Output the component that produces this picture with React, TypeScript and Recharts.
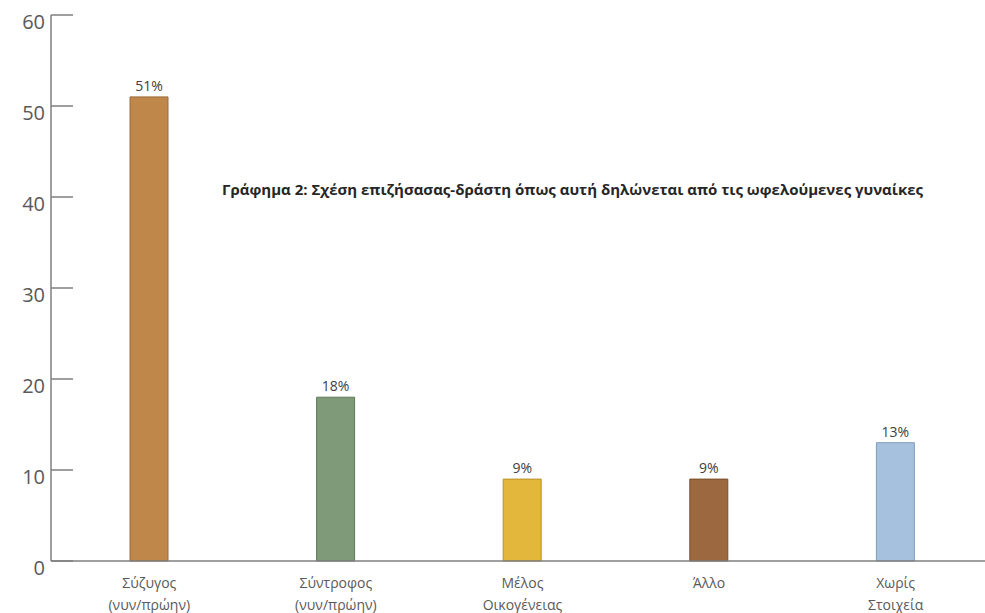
import React from "react";
import { BarChart, Bar, XAxis, YAxis, Cell, LabelList } from "recharts";

const categories: string[] = ["Σύζυγος\n(νυν/πρώην)", "Σύντροφος\n(νυν/πρώην)", "Μέλος\nΟικογένειας", "Άλλο", "Χωρίς\nΣτοιχεία"];
const values: number[] = [51, 18, 9, 9, 13];
const barColors: string[] = ["#C0874A", "#7F9A78", "#E2B73C", "#9B683F", "#A6C1DD"];
const barStrokes: string[] = ["#9c6a36", "#5f7a58", "#b8922a", "#7a4f2c", "#7f9cbb"];
const yTicks: number[] = [0, 10, 20, 30, 40, 50, 60];
const title = "Γράφημα 2: Σχέση επιζήσασας-δράστη όπως αυτή δηλώνεται από τις ωφελούμενες γυναίκες";

const data = categories.map((c, i) => ({ name: c, value: values[i] }));

const axisColor = "#7f7f7f";
const textColor = "#595959";
const font = "'Open Sans', 'DejaVu Sans', sans-serif";

const YTick = (props: any) => {
  const { x, y, payload } = props;
  return (
    <g>
      <line x1={x} y1={y} x2={x + 22} y2={y} stroke={axisColor} strokeWidth={1.5} />
      <text x={x - 6} y={y + 14} textAnchor="end" fontSize={20} fill={textColor} fontFamily={font}>
        {payload.value}
      </text>
    </g>
  );
};

const XTick = (props: any) => {
  const { x, y, payload } = props;
  const lines = String(payload.value).split("\n");
  return (
    <g>
      {lines.map((l, i) => (
        <text key={i} x={x} y={y + 27 + i * 22} textAnchor="middle" fontSize={14} fill={textColor} fontFamily={font}>
          {l}
        </text>
      ))}
    </g>
  );
};

export default function App() {
  return (
    <div style={{ position: "absolute", left: 0, top: 0, width: 985, height: 613, background: "#fff" }}>
      <BarChart width={985} height={613} data={data} margin={{ top: 15, right: -4, left: 0, bottom: 0 }} barCategoryGap="0%">
        <XAxis
          dataKey="name"
          interval={0}
          height={52}
          tickSize={0}
          tickMargin={0}
          tickLine={false}
          tick={<XTick />}
          axisLine={{ stroke: axisColor, strokeWidth: 1.5 }}
          padding={{ left: 5, right: 0 }}
        />
        <YAxis
          width={51}
          domain={[0, 60]}
          ticks={yTicks}
          interval={0}
          tickSize={0}
          tickMargin={0}
          tickLine={false}
          tick={<YTick />}
          axisLine={{ stroke: axisColor, strokeWidth: 1.5 }}
        />
        <Bar dataKey="value" barSize={38} isAnimationActive={false}>
          {data.map((d, i) => (
            <Cell key={i} fill={barColors[i]} stroke={barStrokes[i]} strokeWidth={1} />
          ))}
          <LabelList
            dataKey="value"
            position="top"
            offset={6}
            formatter={(v: any) => `${v}%`}
            style={{ fontSize: 14, fill: "#404040", fontFamily: font }}
          />
        </Bar>
      </BarChart>
      <div
        style={{
          position: "absolute",
          left: 222,
          top: 179,
          fontFamily: font,
          fontWeight: 700,
          fontSize: 15,
          color: "#262626",
          whiteSpace: "nowrap",
          letterSpacing: "0px",
        }}
      >
        {title}
      </div>
    </div>
  );
}
